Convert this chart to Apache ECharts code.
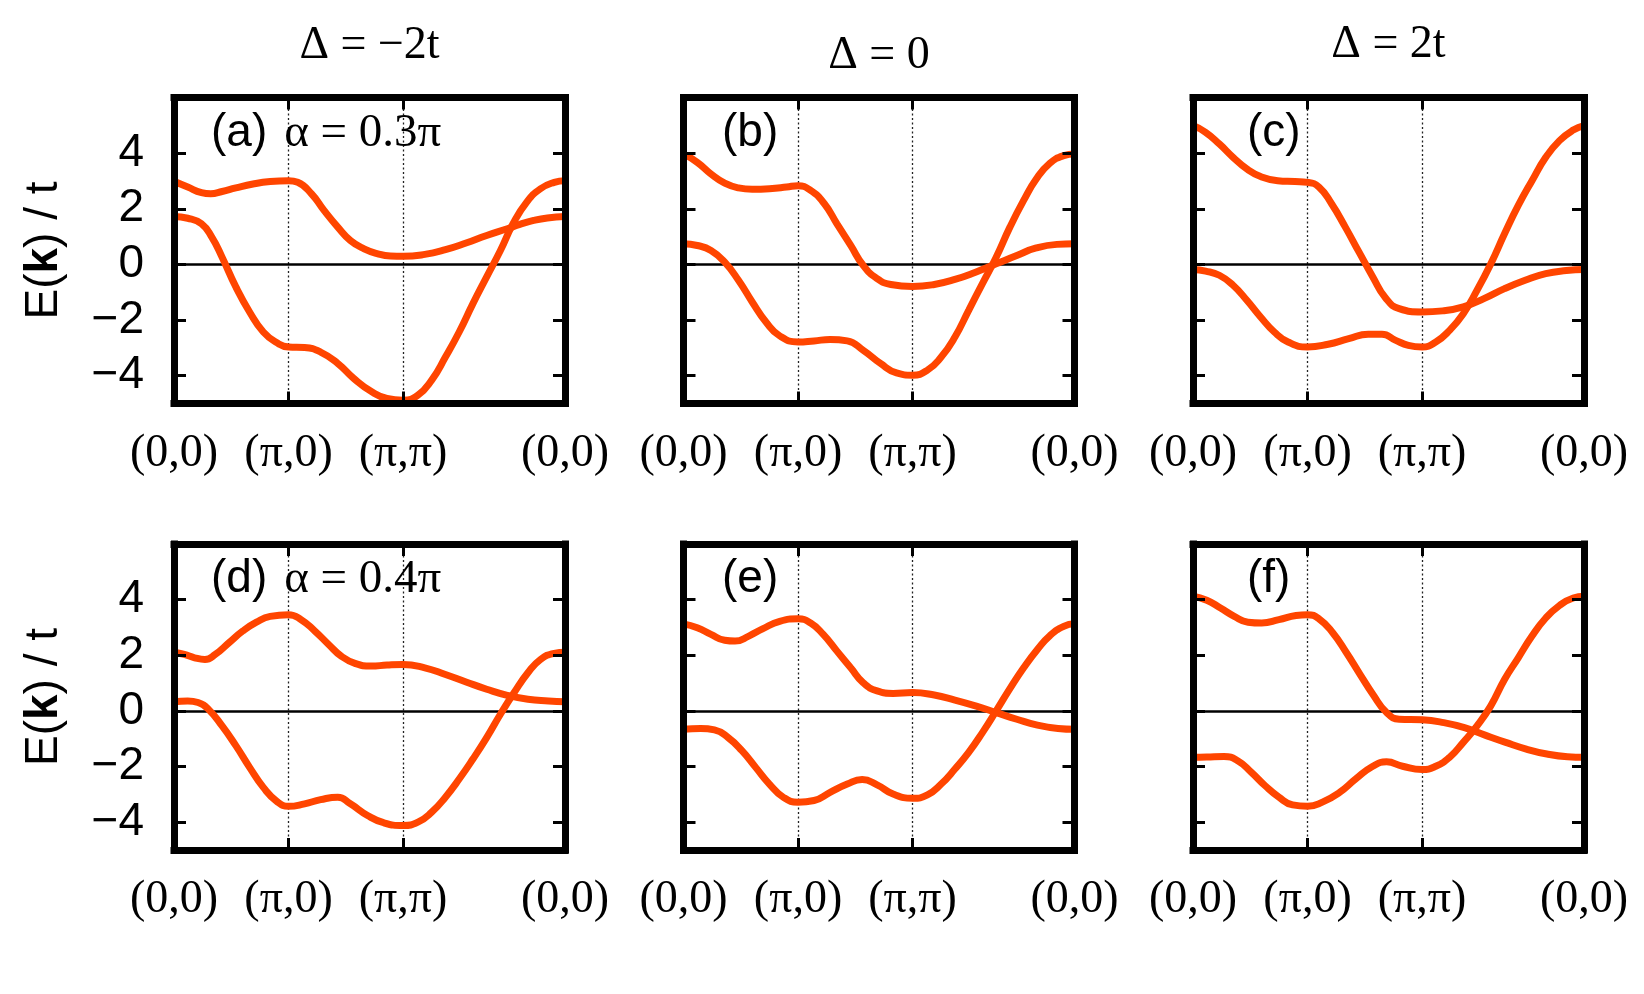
<!DOCTYPE html>
<html>
<head>
<meta charset="utf-8">
<script src="https://cdn.jsdelivr.net/npm/echarts@6/dist/echarts.min.js"></script>
<style>
html,body{margin:0;padding:0;background:#fff;}
#chart{width:1644px;height:994px;}
</style>
</head>
<body>
<div id="chart"></div>
<script>
// ---------- data ----------
const columnTitles = ['Δ = −2t', 'Δ = 0', 'Δ = 2t'];
const panelTags = ['(a)', '(b)', '(c)', '(d)', '(e)', '(f)'];
const panelAlpha = ['α = 0.3π', '', '', 'α = 0.4π', '', ''];
const xTickLabels = ['(0,0)', '(π,0)', '(π,π)', '(0,0)'];
const xTickPos = [0, 1, 2, 3.414];
const yTicks = [-4, -2, 0, 2, 4];
const yRange = [-5, 6];

const aUpper = [[0,2.99],[0.12,2.78],[0.24,2.58],[0.32,2.54],[0.42,2.62],[0.54,2.75],[0.69,2.89],[0.84,2.98],[1.0,3.01],[1.08,2.95],[1.2,2.54],[1.31,1.94],[1.43,1.34],[1.54,0.86],[1.66,0.56],[1.78,0.38],[1.89,0.30],[2.0,0.29],[2.19,0.36],[2.37,0.53],[2.55,0.77],[2.73,1.04],[2.91,1.28],[3.02,1.44],[3.14,1.58],[3.26,1.67],[3.414,1.72]];
const aLower = [[0,1.72],[0.12,1.66],[0.24,1.46],[0.33,0.98],[0.42,0.26],[0.54,-0.81],[0.66,-1.71],[0.78,-2.43],[0.9,-2.82],[1.0,-2.97],[1.14,-2.99],[1.28,-3.15],[1.43,-3.56],[1.57,-4.1],[1.72,-4.56],[1.86,-4.82],[2.0,-4.88],[2.13,-4.7],[2.25,-4.16],[2.37,-3.33],[2.49,-2.43],[2.61,-1.41],[2.73,-0.45],[2.85,0.5],[2.96,1.46],[3.08,2.24],[3.2,2.72],[3.32,2.95],[3.414,3.01]];

const bUpper = [[0,3.97],[0.12,3.67],[0.24,3.25],[0.36,2.92],[0.48,2.75],[0.6,2.7],[0.75,2.72],[0.9,2.78],[1.0,2.83],[1.11,2.66],[1.23,2.18],[1.34,1.46],[1.46,0.68],[1.57,-0.04],[1.69,-0.51],[1.81,-0.72],[2.0,-0.79],[2.19,-0.72],[2.37,-0.54],[2.55,-0.28],[2.73,0.02],[2.91,0.32],[3.08,0.59],[3.26,0.72],[3.414,0.74]];
const bLower = [[0,0.74],[0.12,0.68],[0.24,0.5],[0.36,0.08],[0.48,-0.57],[0.6,-1.35],[0.72,-2.07],[0.84,-2.57],[1.0,-2.79],[1.14,-2.75],[1.28,-2.7],[1.43,-2.75],[1.57,-3.09],[1.72,-3.56],[1.86,-3.9],[2.0,-3.98],[2.13,-3.8],[2.25,-3.33],[2.37,-2.61],[2.49,-1.65],[2.61,-0.69],[2.73,0.26],[2.85,1.34],[2.97,2.3],[3.08,3.07],[3.2,3.64],[3.32,3.91],[3.414,3.97]];

const cUpper = [[0,4.99],[0.11,4.75],[0.23,4.33],[0.35,3.85],[0.47,3.43],[0.59,3.16],[0.74,3.01],[0.89,2.98],[1.0,2.95],[1.1,2.78],[1.21,2.18],[1.33,1.34],[1.45,0.44],[1.57,-0.45],[1.68,-1.2],[1.8,-1.59],[2.0,-1.71],[2.18,-1.67],[2.36,-1.53],[2.54,-1.23],[2.72,-0.87],[2.9,-0.57],[3.08,-0.33],[3.26,-0.22],[3.414,-0.18]];
const cLower = [[0,-0.18],[0.11,-0.24],[0.23,-0.39],[0.35,-0.75],[0.47,-1.29],[0.59,-1.89],[0.71,-2.43],[0.83,-2.79],[1.0,-2.97],[1.18,-2.87],[1.36,-2.67],[1.53,-2.51],[1.65,-2.51],[1.77,-2.73],[1.88,-2.91],[2.0,-2.97],[2.12,-2.79],[2.24,-2.37],[2.36,-1.77],[2.48,-0.93],[2.6,0.02],[2.72,1.1],[2.84,2.12],[2.96,3.01],[3.08,3.85],[3.2,4.45],[3.32,4.83],[3.414,4.99]];

const dUpper = [[0,2.11],[0.09,2.03],[0.18,1.91],[0.27,1.85],[0.36,2.03],[0.48,2.45],[0.6,2.87],[0.72,3.19],[0.84,3.4],[1.0,3.46],[1.11,3.28],[1.23,2.87],[1.35,2.39],[1.46,1.97],[1.58,1.71],[1.72,1.61],[1.86,1.65],[2.0,1.67],[2.19,1.55],[2.37,1.31],[2.55,1.04],[2.73,0.78],[2.91,0.56],[3.09,0.42],[3.27,0.36],[3.414,0.33]];
const dLower = [[0,0.33],[0.12,0.36],[0.21,0.3],[0.3,0.06],[0.42,-0.54],[0.54,-1.25],[0.66,-2.03],[0.78,-2.75],[0.9,-3.26],[1.0,-3.43],[1.14,-3.34],[1.28,-3.19],[1.43,-3.1],[1.54,-3.34],[1.69,-3.76],[1.83,-4.02],[2.0,-4.12],[2.13,-4.0],[2.25,-3.64],[2.37,-3.1],[2.49,-2.45],[2.61,-1.73],[2.73,-0.96],[2.85,-0.12],[2.97,0.66],[3.09,1.37],[3.2,1.85],[3.32,2.07],[3.414,2.11]];

const eUpper = [[0,3.13],[0.12,2.99],[0.24,2.75],[0.36,2.54],[0.45,2.51],[0.57,2.69],[0.69,2.95],[0.84,3.22],[1.0,3.31],[1.11,3.16],[1.22,2.75],[1.34,2.15],[1.46,1.55],[1.57,1.01],[1.69,0.72],[1.83,0.63],[2.0,0.66],[2.19,0.57],[2.37,0.39],[2.55,0.18],[2.73,-0.06],[2.91,-0.3],[3.09,-0.51],[3.27,-0.63],[3.414,-0.66]];
const eLower = [[0,-0.66],[0.15,-0.63],[0.27,-0.68],[0.39,-0.96],[0.51,-1.43],[0.63,-2.03],[0.75,-2.63],[0.87,-3.1],[1.0,-3.28],[1.14,-3.22],[1.28,-2.93],[1.43,-2.63],[1.56,-2.47],[1.69,-2.66],[1.83,-2.99],[2.0,-3.14],[2.13,-3.02],[2.25,-2.63],[2.37,-2.09],[2.49,-1.49],[2.61,-0.78],[2.73,0],[2.85,0.8],[2.97,1.55],[3.09,2.21],[3.2,2.71],[3.32,3.04],[3.414,3.13]];

const fUpper = [[0,4.12],[0.12,3.98],[0.24,3.7],[0.36,3.4],[0.48,3.19],[0.6,3.16],[0.75,3.28],[0.9,3.43],[1.0,3.46],[1.1,3.31],[1.22,2.81],[1.34,2.09],[1.45,1.37],[1.57,0.6],[1.69,-0.06],[1.8,-0.3],[2.0,-0.32],[2.19,-0.42],[2.37,-0.6],[2.55,-0.87],[2.73,-1.13],[2.91,-1.37],[3.09,-1.55],[3.27,-1.65],[3.414,-1.67]];
const fLower = [[0,-1.67],[0.12,-1.66],[0.27,-1.64],[0.39,-1.79],[0.51,-2.21],[0.63,-2.69],[0.75,-3.1],[0.87,-3.38],[1.0,-3.43],[1.13,-3.28],[1.28,-2.93],[1.42,-2.45],[1.57,-1.99],[1.69,-1.83],[1.83,-1.99],[2.0,-2.11],[2.12,-1.99],[2.24,-1.67],[2.36,-1.13],[2.48,-0.54],[2.6,0.18],[2.72,1.13],[2.84,1.91],[2.96,2.69],[3.08,3.34],[3.2,3.79],[3.32,4.06],[3.414,4.12]];

const panelBands = [[aUpper,aLower],[bUpper,bLower],[cUpper,cLower],[dUpper,dLower],[eUpper,eLower],[fUpper,fLower]];

// ---------- layout / style ----------
const gridLefts = [174, 683.5, 1193];
const gridTops = [97.5, 544];
const gridW = 391, gridH = 306;
const curveColor = '#FF4500';
const SANS = '"Liberation Sans", Arial, sans-serif';
const SERIF = '"Liberation Serif", "Times New Roman", serif';
const frameLine = {show: true, onZero: false, lineStyle: {color: '#000', width: 7, cap: 'square'}};

const grids = [], xAxes = [], yAxes = [], series = [], graphics = [];

for (let p = 0; p < 6; p++) {
  const col = p % 3, row = Math.floor(p / 3);
  grids.push({left: gridLefts[col], top: gridTops[row], width: gridW, height: gridH, containLabel: false});
  const xBase = {gridIndex: p, type: 'value', min: xTickPos[0], max: xTickPos[xTickPos.length - 1], z: 10,
    axisLine: frameLine, splitLine: {show: false},
    axisTick: {show: true, inside: true, length: 12, lineStyle: {color: '#000', width: 3}, customValues: xTickPos.slice(1, 3)}};
  xAxes.push(Object.assign({}, xBase, {position: 'bottom',
    axisLabel: {show: true, customValues: xTickPos, margin: 27, color: '#000', fontFamily: SERIF, fontSize: 46, lineHeight: 46,
      formatter: function (v) { for (let i = 0; i < xTickPos.length; i++) { if (Math.abs(v - xTickPos[i]) < 1e-6) return xTickLabels[i]; } return ''; }}}));
  xAxes.push(Object.assign({}, xBase, {position: 'top', axisLabel: {show: false}}));
  const yBase = {gridIndex: p, type: 'value', min: yRange[0], max: yRange[1], z: 10,
    axisLine: frameLine, splitLine: {show: false},
    axisTick: {show: true, inside: true, length: 12, lineStyle: {color: '#000', width: 3}, customValues: yTicks}};
  yAxes.push(Object.assign({}, yBase, {position: 'left',
    axisLabel: {show: col === 0, customValues: yTicks, margin: 30, color: '#000', fontFamily: SANS, fontSize: 46,
      formatter: function (v) { return String(v).replace('-', '\u2212'); }}}));
  yAxes.push(Object.assign({}, yBase, {position: 'right', axisLabel: {show: false}}));

  const bands = panelBands[p];
  bands.forEach(function (band, bi) {
    const s = {type: 'line', xAxisIndex: 2 * p, yAxisIndex: 2 * p, data: band, smooth: 0.5, showSymbol: false,
      z: 3, lineStyle: {color: curveColor, width: 7}, itemStyle: {color: curveColor}, silent: true, animation: false,
      emphasis: {disabled: true}};
    if (bi === 0) {
      s.markLine = {silent: true, symbol: ['none', 'none'], z: 1, animation: false, label: {show: false},
        emphasis: {disabled: true},
        data: [
          {xAxis: xTickPos[1], lineStyle: {color: '#222', width: 1.3, type: [2, 2.5]}},
          {xAxis: xTickPos[2], lineStyle: {color: '#222', width: 1.3, type: [2, 2.5]}},
          {yAxis: 0, lineStyle: {color: '#000', width: 2.6, type: 'solid'}}
        ]};
    }
    series.push(s);
  });

  // panel tag
  const tagX = [211, 722, 1247][col];
  const tagY = [137, 583][row];
  const txt = panelAlpha[p] ? '{s|' + panelTags[p] + '}{r|' + panelAlpha[p] + '}' : '{s|' + panelTags[p] + '}';
  graphics.push({type: 'text', left: tagX, top: tagY - 27, z: 20, silent: true,
    style: {text: txt, fill: '#000',
      rich: {s: {fontFamily: SANS, fontSize: 46, fill: '#000'},
             r: {fontFamily: SERIF, fontSize: 47, fill: '#000', padding: [0, 0, 0, 17]}}}});
}

// column titles
const titleY = [46, 56, 45];
columnTitles.forEach(function (t, i) {
  graphics.push({type: 'text', x: gridLefts[i] + gridW / 2, y: titleY[i], z: 20, silent: true,
    style: {text: t, fill: '#000', font: '46px ' + SERIF, align: 'center', verticalAlign: 'middle'}});
});

// y axis names
[gridTops[0] + gridH / 2, gridTops[1] + gridH / 2].forEach(function (cy) {
  graphics.push({type: 'text', x: 44, y: cy, rotation: Math.PI / 2, z: 20, silent: true,
    style: {text: '{n|E(}{b|k}{n|) / t}', align: 'center', verticalAlign: 'middle', fill: '#000',
      rich: {n: {fontFamily: SANS, fontSize: 46, fill: '#000'}, b: {fontFamily: SANS, fontSize: 46, fontWeight: 'bold', fill: '#000'}}}});
});

const chart = echarts.init(document.getElementById('chart'), null, {renderer: 'canvas'});
chart.setOption({
  animation: false,
  backgroundColor: '#fff',
  grid: grids,
  xAxis: xAxes,
  yAxis: yAxes,
  series: series,
  graphic: graphics
});
</script>
</body>
</html>
